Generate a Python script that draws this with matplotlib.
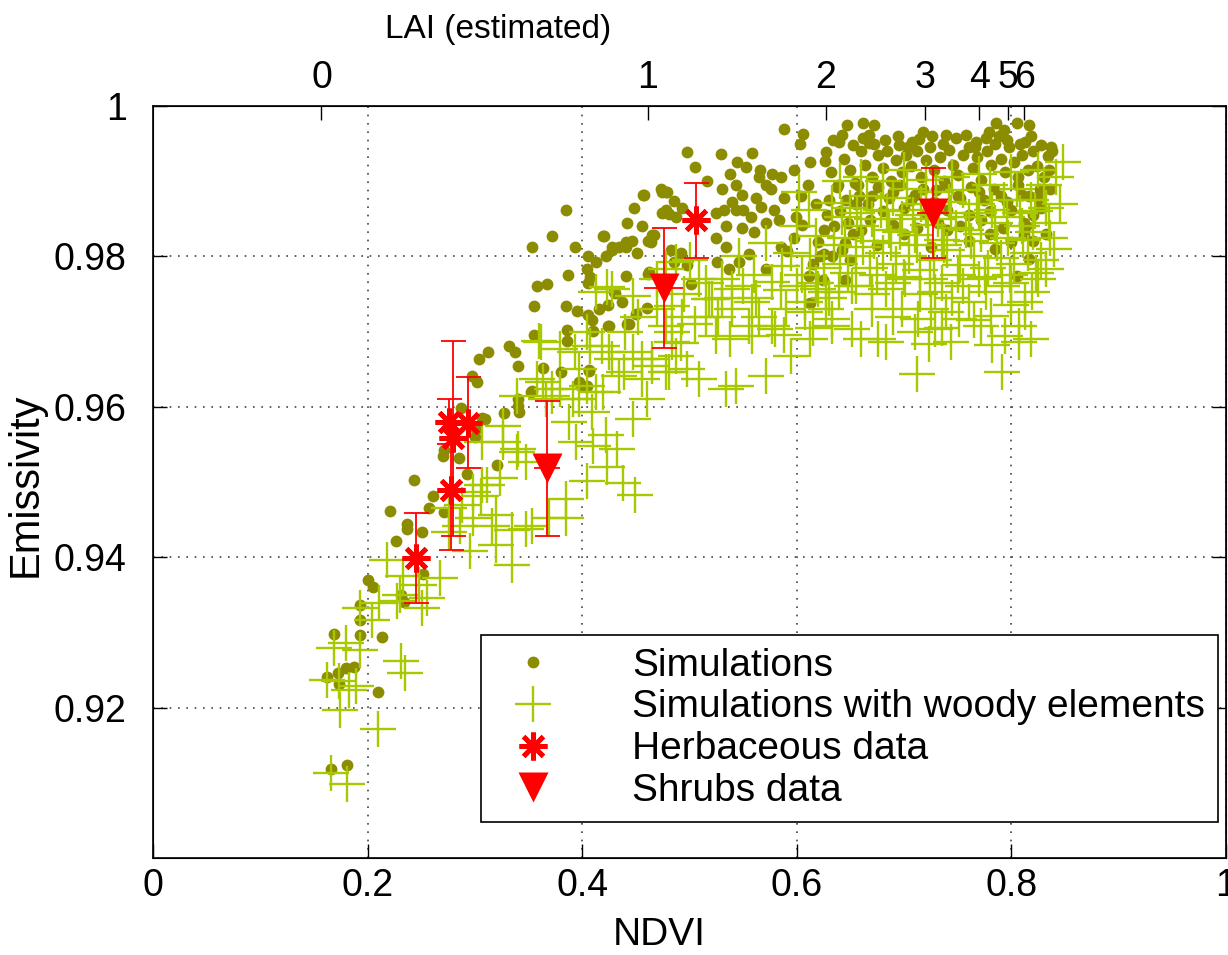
import numpy as np
import matplotlib
matplotlib.use('Agg')
import matplotlib.pyplot as plt
from matplotlib.lines import Line2D

plt.rcParams['font.family'] = ['Liberation Sans', 'DejaVu Sans']

## ========= data =========

# Simulations (olive dots)
sim_ndvi = [
    0.166, 0.181, 0.162, 0.172, 0.180, 0.187, 0.173, 0.210, 0.169, 0.193,
    0.213, 0.193, 0.193, 0.200, 0.205, 0.231, 0.234, 0.226, 0.221, 0.237,
    0.237, 0.251, 0.252, 0.243, 0.257, 0.261,
    0.271, 0.270, 0.271, 0.285, 0.293, 0.321, 0.287, 0.300, 0.301, 0.309,
    0.327, 0.340, 0.341, 0.352, 0.302, 0.297, 0.304, 0.312, 0.332, 0.337,
    0.340, 0.353, 0.355, 0.363, 0.380, 0.386, 0.386, 0.355, 0.385, 0.397,
    0.406, 0.399, 0.404, 0.307,
    0.385, 0.372, 0.353, 0.393, 0.405, 0.387, 0.404, 0.407, 0.405, 0.358,
    0.367, 0.395, 0.405, 0.409, 0.410, 0.424, 0.416, 0.424, 0.431, 0.437,
    0.442, 0.450, 0.460, 0.441, 0.451, 0.461, 0.413, 0.422, 0.428, 0.441,
    0.446, 0.420, 0.442, 0.456, 0.448, 0.457, 0.461, 0.465, 0.474, 0.478,
    0.486, 0.474, 0.481, 0.406, 0.340,
    0.498, 0.505, 0.529, 0.558, 0.544, 0.553, 0.538, 0.566, 0.565, 0.588,
    0.606, 0.516, 0.530, 0.543, 0.549, 0.577, 0.585, 0.571, 0.576, 0.597,
    0.588, 0.562, 0.567, 0.540, 0.543, 0.532, 0.525, 0.534, 0.550, 0.557,
    0.579, 0.583, 0.571, 0.549, 0.560, 0.599, 0.605, 0.525, 0.458, 0.473,
    0.479, 0.478, 0.493, 0.487, 0.419, 0.428, 0.434, 0.441, 0.467, 0.464,
    0.483, 0.492, 0.486, 0.498, 0.526, 0.537, 0.546, 0.571, 0.501, 0.534,
    0.555, 0.462, 0.430, 0.425, 0.444, 0.611, 0.591, 0.585, 0.620, 0.625,
    0.597, 0.603, 0.612, 0.626, 0.612, 0.624, 0.610, 0.618, 0.604,
    0.647, 0.662, 0.672, 0.667, 0.667, 0.718, 0.739, 0.767, 0.779, 0.786,
    0.793, 0.805, 0.816, 0.813, 0.837, 0.834, 0.627, 0.639, 0.695, 0.707,
    0.622, 0.814, 0.827, 0.800, 0.828, 0.826, 0.816, 0.812, 0.805,
    0.632, 0.638, 0.644, 0.650, 0.654, 0.658, 0.660, 0.664, 0.670, 0.676,
    0.680, 0.684, 0.688, 0.692, 0.698, 0.702, 0.706, 0.712, 0.716, 0.720,
    0.724, 0.728, 0.733, 0.737, 0.742, 0.746, 0.750, 0.755, 0.760, 0.764,
    0.768, 0.772, 0.777, 0.781, 0.785, 0.790, 0.794, 0.798, 0.802, 0.806,
    0.810, 0.815, 0.820, 0.824, 0.830, 0.835, 0.640, 0.648, 0.655, 0.630,
    0.635, 0.645, 0.628, 0.670, 0.690, 0.710, 0.730, 0.750, 0.770, 0.790,
    0.810, 0.660, 0.680, 0.700, 0.720, 0.740, 0.760, 0.780, 0.800, 0.820,
    0.700, 0.740, 0.780, 0.760, 0.820, 0.633, 0.615, 0.650, 0.645,
    0.634, 0.642, 0.652, 0.662, 0.672, 0.682, 0.694, 0.704, 0.714, 0.726,
    0.736, 0.748, 0.758, 0.766, 0.776, 0.788, 0.796, 0.808, 0.818, 0.828,
    0.838,
    0.637, 0.646, 0.657, 0.666, 0.676, 0.686, 0.696, 0.706, 0.718, 0.728,
    0.738, 0.752, 0.762, 0.774, 0.784, 0.796, 0.806, 0.816, 0.826, 0.836,
    0.625, 0.652, 0.668, 0.690, 0.712, 0.732, 0.752, 0.772, 0.792, 0.812,
    0.832, 0.642, 0.675, 0.725, 0.785,
]
sim_emis = [
    0.9118, 0.9124, 0.9241, 0.9246, 0.9252, 0.9254, 0.9232, 0.9221, 0.9298, 0.9297,
    0.9294, 0.9317, 0.9336, 0.9370, 0.9360, 0.9350, 0.9340, 0.9421, 0.9462, 0.9444,
    0.9437, 0.9434, 0.9378, 0.9502, 0.9466, 0.9482,
    0.9460, 0.9534, 0.9543, 0.9532, 0.9511, 0.9522, 0.9599, 0.9560, 0.9571, 0.9584,
    0.9592, 0.9610, 0.9593, 0.9620, 0.9633, 0.9641, 0.9664, 0.9673, 0.9681, 0.9673,
    0.9654, 0.9621, 0.9695, 0.9652, 0.9646, 0.9702, 0.9687, 0.9734, 0.9734, 0.9633,
    0.9648, 0.9628, 0.9627, 0.9585,
    0.9862, 0.9827, 0.9812, 0.9813, 0.9801, 0.9775, 0.9783, 0.9772, 0.9764, 0.9760,
    0.9763, 0.9727, 0.9722, 0.9715, 0.9701, 0.9707, 0.9730, 0.9735, 0.9751, 0.9739,
    0.9710, 0.9723, 0.9732, 0.9774, 0.9804, 0.9776, 0.9792, 0.9800, 0.9808, 0.9813,
    0.9821, 0.9827, 0.9845, 0.9840, 0.9865, 0.9881, 0.9820, 0.9829, 0.9886, 0.9885,
    0.9874, 0.9858, 0.9856, 0.9649, 0.9601,
    0.9939, 0.9919, 0.9936, 0.9937, 0.9926, 0.9919, 0.9910, 0.9915, 0.9906, 0.9970,
    0.9963, 0.9900, 0.9889, 0.9895, 0.9882, 0.9909, 0.9906, 0.9895, 0.9889, 0.9915,
    0.9878, 0.9878, 0.9866, 0.9873, 0.9862, 0.9862, 0.9858, 0.9840, 0.9862, 0.9853,
    0.9862, 0.9849, 0.9845, 0.9838, 0.9833, 0.9853, 0.9842, 0.9825, 0.9881, 0.9889,
    0.9886, 0.9862, 0.9865, 0.9852, 0.9827, 0.9812, 0.9813, 0.9819, 0.9829, 0.9819,
    0.9809, 0.9805, 0.9792, 0.9789, 0.9792, 0.9783, 0.9792, 0.9783, 0.9763, 0.9812,
    0.9803, 0.9779, 0.9752, 0.9707, 0.9710, 0.9774, 0.9807, 0.9813, 0.9819, 0.9803,
    0.9825, 0.9950, 0.9925, 0.9927, 0.9738, 0.9768, 0.9895, 0.9870, 0.9880,
    0.9975, 0.9977, 0.9975, 0.9962, 0.9951, 0.9966, 0.9962, 0.9952, 0.9966, 0.9977,
    0.9968, 0.9977, 0.9975, 0.9952, 0.9946, 0.9933, 0.9939, 0.9952, 0.9948, 0.9952,
    0.9800, 0.9840, 0.9890, 0.9819, 0.9865, 0.9882, 0.9797, 0.9828, 0.9774,
    0.9912, 0.9895, 0.9930, 0.9915, 0.9898, 0.9880, 0.9940, 0.9922, 0.9905, 0.9935,
    0.9918, 0.9940, 0.9900, 0.9928, 0.9912, 0.9935, 0.9920, 0.9940, 0.9905, 0.9928,
    0.9945, 0.9915, 0.9932, 0.9900, 0.9942, 0.9922, 0.9908, 0.9935, 0.9945, 0.9918,
    0.9932, 0.9902, 0.9940, 0.9922, 0.9950, 0.9930, 0.9912, 0.9945, 0.9925, 0.9905,
    0.9935, 0.9915, 0.9940, 0.9920, 0.9905, 0.9915, 0.9860, 0.9845, 0.9870, 0.9875,
    0.9840, 0.9818, 0.9855, 0.9880, 0.9885, 0.9882, 0.9888, 0.9880, 0.9885, 0.9880,
    0.9882, 0.9835, 0.9860, 0.9865, 0.9858, 0.9862, 0.9855, 0.9860, 0.9862, 0.9855,
    0.9830, 0.9835, 0.9830, 0.9820, 0.9820, 0.9800, 0.9790, 0.9795, 0.9768,
    0.9955, 0.9962, 0.9948, 0.9958, 0.9950, 0.9955, 0.9960, 0.9945, 0.9956, 0.9960,
    0.9950, 0.9958, 0.9962, 0.9946, 0.9958, 0.9960, 0.9955, 0.9950, 0.9960, 0.9948,
    0.9940,
    0.9892, 0.9875, 0.9895, 0.9870, 0.9892, 0.9878, 0.9895, 0.9875, 0.9890, 0.9872,
    0.9895, 0.9878, 0.9892, 0.9875, 0.9890, 0.9872, 0.9895, 0.9880, 0.9875, 0.9890,
    0.9835, 0.9830, 0.9848, 0.9842, 0.9838, 0.9845, 0.9840, 0.9848, 0.9838, 0.9845,
    0.9830, 0.9808, 0.9815, 0.9812, 0.9810,
]

# Simulations with woody elements (yellow-green crosses)
wood_ndvi = [
    0.166, 0.181, 0.210, 0.174, 0.173, 0.189, 0.162, 0.183, 0.169, 0.193,
    0.180, 0.231, 0.235, 0.204, 0.211, 0.227, 0.251, 0.248,
    0.276, 0.286, 0.298, 0.311, 0.306, 0.323, 0.320, 0.335, 0.348, 0.340,
    0.326, 0.369, 0.385, 0.404, 0.410, 0.335, 0.267, 0.230, 0.255, 0.193,
    0.218, 0.233, 0.276, 0.288, 0.295, 0.353, 0.316, 0.298, 0.372, 0.388,
    0.397, 0.404,
    0.362, 0.379, 0.407, 0.397, 0.363, 0.372, 0.391, 0.409, 0.339, 0.326,
    0.307, 0.339, 0.394, 0.385, 0.320, 0.307, 0.348,
    0.360, 0.393, 0.418, 0.428, 0.447, 0.465, 0.434, 0.456, 0.478, 0.413,
    0.428, 0.447, 0.478, 0.484, 0.413, 0.379, 0.358, 0.366, 0.484, 0.404,
    0.423, 0.487, 0.509, 0.518, 0.540, 0.558, 0.577, 0.590, 0.608, 0.620,
    0.633, 0.602, 0.611, 0.633, 0.618, 0.595, 0.571, 0.546, 0.527, 0.493,
    0.478, 0.555, 0.580, 0.586,
    0.425, 0.439, 0.456, 0.484, 0.498, 0.487, 0.509, 0.534, 0.543, 0.571,
    0.558, 0.577, 0.595, 0.608, 0.633, 0.627, 0.540, 0.525, 0.521, 0.465,
    0.447, 0.432, 0.422, 0.419, 0.481, 0.460, 0.423, 0.438, 0.449,
    0.651, 0.660, 0.676, 0.683, 0.670, 0.712, 0.723, 0.744, 0.729, 0.772,
    0.791, 0.807, 0.807, 0.813, 0.819, 0.825, 0.832, 0.627, 0.639, 0.698,
    0.713, 0.760, 0.781, 0.794, 0.751, 0.739, 0.683, 0.651, 0.776, 0.729,
    0.701, 0.791, 0.813,
    0.640, 0.655, 0.668, 0.680, 0.692, 0.705, 0.715, 0.728, 0.740, 0.752,
    0.765, 0.778, 0.790, 0.802, 0.815, 0.828, 0.840, 0.645, 0.660, 0.672,
    0.686, 0.698, 0.710, 0.722, 0.735, 0.748, 0.760, 0.772, 0.785, 0.797,
    0.810, 0.822, 0.835, 0.845, 0.650, 0.665, 0.678, 0.690, 0.703, 0.716,
    0.730, 0.742, 0.755, 0.768, 0.780, 0.793, 0.805, 0.818, 0.830, 0.842,
    0.848, 0.825, 0.800, 0.770, 0.745, 0.720, 0.700, 0.680, 0.660, 0.640,
    0.655, 0.670, 0.690, 0.715, 0.735, 0.755, 0.770, 0.800, 0.725, 0.745,
    0.690, 0.765, 0.735, 0.710, 0.800, 0.818, 0.782,
    0.635, 0.648, 0.662, 0.675, 0.688, 0.700, 0.712, 0.724, 0.737, 0.750,
    0.762, 0.775, 0.787, 0.799, 0.811, 0.823, 0.836,
    0.642, 0.656, 0.670, 0.684, 0.696, 0.708, 0.720, 0.732, 0.744, 0.758,
    0.770, 0.782, 0.796, 0.808, 0.820, 0.832,
    0.600, 0.612, 0.625, 0.605, 0.618, 0.630,
    0.440, 0.452, 0.470, 0.495, 0.505, 0.515, 0.530, 0.550, 0.565, 0.585,
    0.600, 0.615, 0.470, 0.492, 0.515, 0.538, 0.562, 0.588, 0.612, 0.500,
    0.530, 0.560,
]
wood_emis = [
    0.9113, 0.9098, 0.9171, 0.9197, 0.9236, 0.9229, 0.9237, 0.9223, 0.9279, 0.9277,
    0.9286, 0.9262, 0.9246, 0.9317, 0.9339, 0.9342, 0.9332, 0.9363,
    0.9434, 0.9442, 0.9452, 0.9496, 0.9482, 0.9505, 0.9416, 0.9436, 0.9527, 0.9544,
    0.9553, 0.9452, 0.9452, 0.9501, 0.9548, 0.9389, 0.9372, 0.9350, 0.9346, 0.9332,
    0.9396, 0.9375, 0.9465, 0.9469, 0.9408, 0.9442, 0.9442, 0.9487, 0.9624, 0.9580,
    0.9611, 0.9628,
    0.9686, 0.9677, 0.9681, 0.9650, 0.9633, 0.9615, 0.9611, 0.9593, 0.9615, 0.9575,
    0.9553, 0.9540, 0.9553, 0.9478, 0.9456, 0.9496, 0.9438,
    0.9687, 0.9673, 0.9681, 0.9664, 0.9673, 0.9664, 0.9641, 0.9637, 0.9646, 0.9752,
    0.9756, 0.9747, 0.9783, 0.9734, 0.9620, 0.9624, 0.9637, 0.9611, 0.9699, 0.9699,
    0.9759, 0.9792, 0.9770, 0.9743, 0.9756, 0.9739, 0.9766, 0.9730, 0.9739, 0.9756,
    0.9717, 0.9885, 0.9862, 0.9871, 0.9827, 0.9805, 0.9818, 0.9800, 0.9720, 0.9720,
    0.9707, 0.9707, 0.9703, 0.9787,
    0.9673, 0.9646, 0.9664, 0.9686, 0.9650, 0.9668, 0.9637, 0.9624, 0.9628, 0.9641,
    0.9694, 0.9707, 0.9668, 0.9726, 0.9707, 0.9752, 0.9730, 0.9694, 0.9743, 0.9654,
    0.9584, 0.9544, 0.9562, 0.9620, 0.9646, 0.9611, 0.9520, 0.9499, 0.9483,
    0.9703, 0.9690, 0.9690, 0.9686, 0.9730, 0.9644, 0.9683, 0.9686, 0.9703, 0.9707,
    0.9646, 0.9686, 0.9707, 0.9726, 0.9752, 0.9770, 0.9783, 0.9730, 0.9752, 0.9730,
    0.9717, 0.9739, 0.9721, 0.9694, 0.9717, 0.9726, 0.9756, 0.9760, 0.9752, 0.9752,
    0.9770, 0.9760, 0.9739,
    0.9790, 0.9800, 0.9785, 0.9805, 0.9790, 0.9800, 0.9782, 0.9795, 0.9808, 0.9788,
    0.9800, 0.9785, 0.9798, 0.9790, 0.9805, 0.9795, 0.9810, 0.9825, 0.9840, 0.9820,
    0.9835, 0.9850, 0.9828, 0.9842, 0.9822, 0.9838, 0.9852, 0.9830, 0.9845, 0.9825,
    0.9840, 0.9860, 0.9845, 0.9870, 0.9865, 0.9880, 0.9862, 0.9878, 0.9890, 0.9870,
    0.9885, 0.9872, 0.9888, 0.9870, 0.9895, 0.9875, 0.9890, 0.9875, 0.9895, 0.9905,
    0.9925, 0.9915, 0.9912, 0.9910, 0.9905, 0.9902, 0.9915, 0.9900, 0.9905, 0.9900,
    0.9760, 0.9750, 0.9765, 0.9750, 0.9765, 0.9760, 0.9770, 0.9765, 0.9730, 0.9745,
    0.9720, 0.9715, 0.9705, 0.9700, 0.9735, 0.9690, 0.9682,
    0.9815, 0.9778, 0.9812, 0.9775, 0.9818, 0.9772, 0.9815, 0.9770, 0.9815, 0.9775,
    0.9820, 0.9772, 0.9818, 0.9775, 0.9822, 0.9778, 0.9825,
    0.9852, 0.9858, 0.9850, 0.9860, 0.9832, 0.9855, 0.9862, 0.9850, 0.9858, 0.9835,
    0.9858, 0.9862, 0.9852, 0.9858, 0.9832, 0.9865,
    0.9840, 0.9800, 0.9785, 0.9775, 0.9765, 0.9745,
    0.9700, 0.9720, 0.9730, 0.9750, 0.9710, 0.9765, 0.9745, 0.9760, 0.9720, 0.9755,
    0.9760, 0.9705, 0.9770, 0.9685, 0.9720, 0.9690, 0.9745, 0.9695, 0.9690, 0.9795,
    0.9770, 0.9775,
]

# Herbaceous data (red asterisks with error bars)
herb_ndvi = [0.245, 0.2756, 0.294, 0.2794, 0.278, 0.5058]
herb_emis = [0.9399, 0.9580, 0.9579, 0.9558, 0.9489, 0.9848]
herb_err = [0.006, 0.003, 0.006, 0.013, 0.008, 0.005]

# Shrubs data (red triangles with error bars)
shrub_ndvi = [0.367, 0.476, 0.727]
shrub_emis = [0.9518, 0.9758, 0.9858]
shrub_err = [0.009, 0.008, 0.006]
shrub_xerr = [0.012, 0.018, 0.015]

# top axis: LAI positions in NDVI units
lai_pos = [0.157, 0.461, 0.627, 0.719, 0.770, 0.797, 0.812]
lai_labels = ['0', '1', '2', '3', '4', '5', '6']

ndvi_ticks = [0, 0.2, 0.4, 0.6, 0.8, 1.0]
ndvi_labels = ['0', '0.2', '0.4', '0.6', '0.8', '1']
emis_ticks = [0.92, 0.94, 0.96, 0.98, 1.0]
emis_labels = ['0.92', '0.94', '0.96', '0.98', '1']

olive = '#8c8c00'
lime = '#a8c800'
red = '#ff0000'
ast = (8, 2, 0)

fig = plt.figure(figsize=(12.28, 9.55), dpi=100)
ax = fig.add_axes([0.1246, 0.1016, 0.8738, 0.7874])

ax.plot(sim_ndvi, sim_emis, 'o', ls='none', color=olive, ms=8.5, mec='none', zorder=3)
ax.plot(wood_ndvi, wood_emis, '+', ls='none', color=lime, ms=26, mew=1.7, zorder=4)

ax.errorbar(herb_ndvi, herb_emis, yerr=herb_err, fmt='none', ecolor=red,
            elinewidth=1.3, capsize=9, capthick=1.3, zorder=5)
ax.plot(herb_ndvi, herb_emis, marker=ast, ls='none', color=red, ms=20, mew=3.5, zorder=6)

ax.errorbar(shrub_ndvi, shrub_emis, yerr=shrub_err, fmt='none', ecolor=red,
            elinewidth=1.3, capsize=9, capthick=1.3, zorder=5)
ax.errorbar(shrub_ndvi, shrub_emis, xerr=shrub_xerr, fmt='none', ecolor=red,
            elinewidth=1.3, capsize=0, zorder=5)
ax.plot(shrub_ndvi, shrub_emis, 'v', ls='none', color=red, ms=22, mec='none', zorder=6)

ax.set_xlim(0, 1)
ax.set_ylim(0.9, 1.0)
ax.set_xticks(ndvi_ticks)
ax.set_xticklabels(ndvi_labels)
ax.set_yticks(emis_ticks)
ax.set_yticklabels(emis_labels)
ax.tick_params(direction='in', length=10, width=1, labelsize=27, right=True)
ax.tick_params(axis='x', pad=7)
ax.tick_params(axis='y', pad=19)
ax.grid(True, color='#444444', linestyle=(0, (1, 4)), linewidth=1.2)
for s in ax.spines.values():
    s.set_linewidth(1.2)
ax.set_xlabel('NDVI', fontsize=28)
ax.xaxis.set_label_coords(0.4716, -0.079)
ax.set_ylabel('Emissivity', fontsize=30)
ax.yaxis.set_label_coords(-0.10, 0.496)

top = ax.twiny()
top.set_xlim(0, 1)
top.set_xticks(lai_pos)
top.set_xticklabels(lai_labels)
top.tick_params(direction='in', length=10, width=1, labelsize=27, pad=7)
top.set_xlabel('LAI (estimated)', fontsize=24)
top.xaxis.set_label_coords(0.3215, 1.09)

handles = [
    Line2D([], [], marker='o', ls='none', color=olive, ms=8.5, mec='none'),
    Line2D([], [], marker='+', ls='none', color=lime, ms=26, mew=1.7),
    Line2D([], [], marker=ast, ls='none', color=red, ms=20, mew=3.5),
    Line2D([], [], marker='v', ls='none', color=red, ms=22, mec='none'),
]
labels = ['Simulations', 'Simulations with woody elements',
          'Herbaceous data', 'Shrubs data']
leg = ax.legend(handles, labels, loc='lower right', bbox_to_anchor=(0.9925, 0.048),
                fontsize=28, frameon=True, fancybox=False, framealpha=1,
                edgecolor='black', borderaxespad=0, handlelength=2.0,
                handletextpad=1.55, labelspacing=0.15, borderpad=0.33)
leg.get_frame().set_linewidth(1.2)
leg.set_zorder(10)

plt.savefig('out.png', dpi=100)
